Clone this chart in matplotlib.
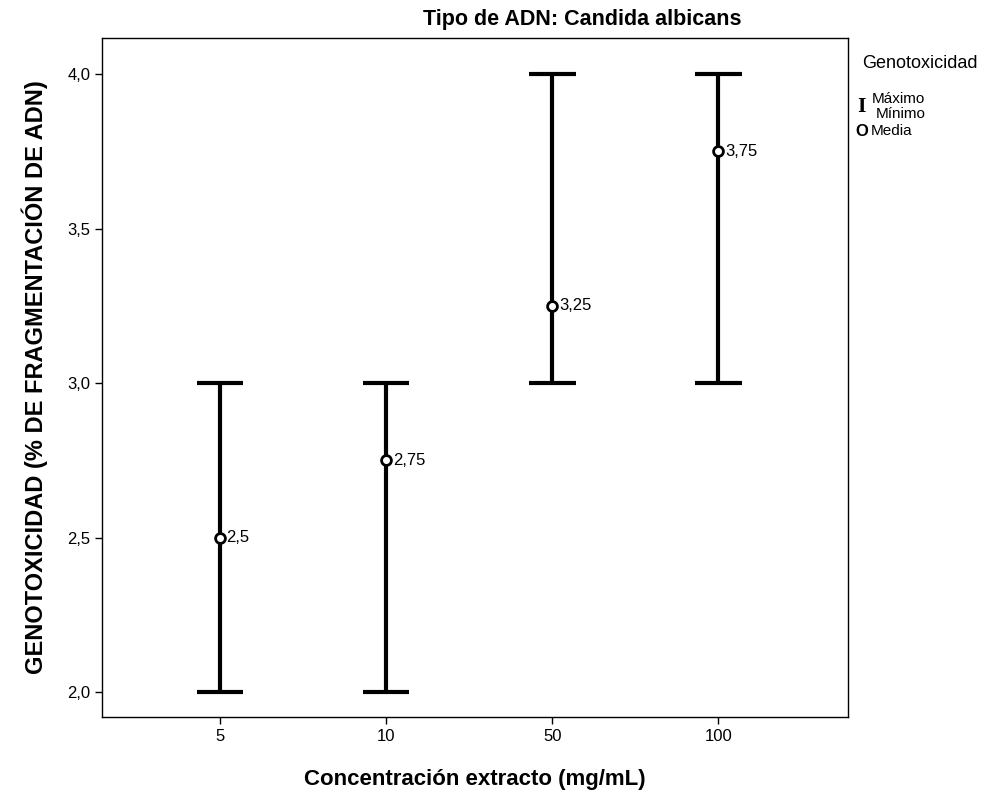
import matplotlib.pyplot as plt

concentraciones = ["5", "10", "50", "100"]
minimos = [2.0, 2.0, 3.0, 3.0]
maximos = [3.0, 3.0, 4.0, 4.0]
medias = [2.5, 2.75, 3.25, 3.75]
etiquetas = ["2,5", "2,75", "3,25", "3,75"]
yticks = [2.0, 2.5, 3.0, 3.5, 4.0]
ytick_labels = ["2,0", "2,5", "3,0", "3,5", "4,0"]

plt.rcParams["font.family"] = ["Liberation Sans", "DejaVu Sans"]

fig = plt.figure(figsize=(10.07, 8.08), dpi=100)
ax = fig.add_axes([102 / 1007, 1 - 717 / 808, 746 / 1007, 679 / 808])

x = list(range(len(concentraciones)))
for xi, lo, hi in zip(x, minimos, maximos):
    ax.plot([xi, xi], [lo, hi], color="black", lw=3, solid_capstyle="butt")
    for v in (lo, hi):
        ax.plot([xi - 0.14, xi + 0.14], [v, v], color="black", lw=3,
                solid_capstyle="butt")

ax.scatter(x, medias, s=50, facecolors="white", edgecolors="black",
           linewidths=2, zorder=3)
for xi, m, t in zip(x, medias, etiquetas):
    ax.text(xi + 0.04, m, t, fontsize=12, va="center", ha="left")

ax.set_xlim(-0.71, 3.78)
ax.set_ylim(1.919, 4.117)
ax.set_xticks(x)
ax.set_xticklabels(concentraciones, fontsize=12)
ax.set_yticks(yticks)
ax.set_yticklabels(ytick_labels, fontsize=12)
ax.tick_params(direction="out", length=5, width=1)
for s in ax.spines.values():
    s.set_linewidth(1)

ax.set_xlabel("Concentración extracto (mg/mL)", fontsize=16, fontweight="bold",
              labelpad=18)
ax.set_ylabel("GENOTOXICIDAD (% DE FRAGMENTACIÓN DE ADN)", fontsize=17,
              fontweight="bold", labelpad=14)
fig.text(582 / 1007, 1 - 20 / 808, "Tipo de ADN: Candida albicans",
         fontsize=15.5, fontweight="bold", ha="center", va="center",
         family=["Liberation Sans Narrow", "Liberation Sans"])

# leyenda manual
fig.text(862 / 1007, 1 - 63 / 808, "Genotoxicidad", fontsize=13, va="center")
fig.text(857 / 1007, 1 - 107 / 808, "I", fontsize=13, fontweight="bold",
         va="center", family="DejaVu Serif")
fig.text(872 / 1007, 1 - 99 / 808, "Máximo", fontsize=11, va="center")
fig.text(876 / 1007, 1 - 114 / 808, "Mínimo", fontsize=11, va="center")
fig.text(855 / 1007, 1 - 131 / 808, "O", fontsize=12, fontweight="bold",
         va="center")
fig.text(871 / 1007, 1 - 131 / 808, "Media", fontsize=11, va="center")

fig.savefig("out.png", dpi=100)
